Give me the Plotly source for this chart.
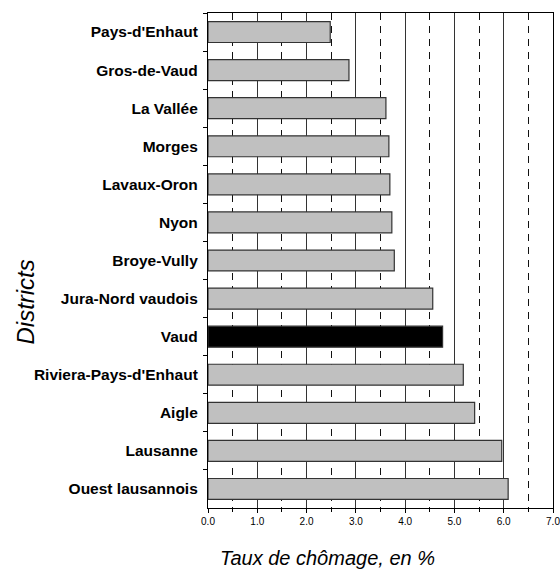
import plotly.graph_objects as go

districts = ["Pays-d'Enhaut", "Gros-de-Vaud", "La Vallée", "Morges", "Lavaux-Oron",
             "Nyon", "Broye-Vully", "Jura-Nord vaudois", "Vaud",
             "Riviera-Pays-d'Enhaut", "Aigle", "Lausanne", "Ouest lausannois"]
taux = [2.48, 2.86, 3.61, 3.67, 3.69, 3.73, 3.78, 4.56, 4.76, 5.18, 5.41, 5.96, 6.09]
x_ticks = [0, 1, 2, 3, 4, 5, 6, 7]

colors = ["#000000" if d == "Vaud" else "#c0c0c0" for d in districts]

fig = go.Figure(go.Bar(
    x=taux, y=districts, orientation="h",
    marker=dict(color=colors, line=dict(color="#333333", width=1.2)),
    width=0.55,
))

fig.update_layout(
    width=560, height=569,
    margin=dict(l=208, r=7, t=13, b=61),
    plot_bgcolor="white", paper_bgcolor="white",
    showlegend=False,
    font=dict(family="Liberation Sans, Arial, sans-serif", color="black"),
    xaxis=dict(
        range=[0, 7], tickvals=x_ticks, tickformat=".1f",
        tickfont=dict(size=10), ticklabeloverflow="allow", automargin=False,
        showgrid=True, gridcolor="#333333", gridwidth=1,
        minor=dict(dtick=0.5, showgrid=True, gridcolor="#111111", gridwidth=1,
                   griddash="7px,6px", ticks="outside", ticklen=3, tickcolor="black"),
        ticks="outside", ticklen=4, tickcolor="black",
        showline=True, linecolor="black", linewidth=1.2, mirror=True,
        zeroline=False, fixedrange=True,
    ),
    yaxis=dict(
        autorange="reversed", type="category", automargin=False,
        tickfont=dict(size=15.5, family="Liberation Sans, Arial, sans-serif", weight="bold"),
        ticks="outside", tickson="boundaries", ticklen=4, tickcolor="black",
        ticklabelstandoff=6,
        showline=True, linecolor="black", linewidth=1.2, mirror=True,
        showgrid=False, fixedrange=True,
    ),
    annotations=[
        dict(text="Taux de chômage, en %", xref="paper", yref="paper",
             x=(328 - 208) / 346, y=-(558 - 508) / 495, xanchor="center", yanchor="middle",
             showarrow=False, font=dict(size=20, style="italic")),
        dict(text="Districts", xref="paper", yref="paper",
             x=-(208 - 24) / 346, y=1 - (302 - 13) / 495, xanchor="center", yanchor="middle",
             textangle=-90, showarrow=False, font=dict(size=24, style="italic")),
    ],
)

fig.write_html("out.html", config={"displayModeBar": False},
               post_script="document.body.style.margin='0';document.body.style.overflow='hidden';")
